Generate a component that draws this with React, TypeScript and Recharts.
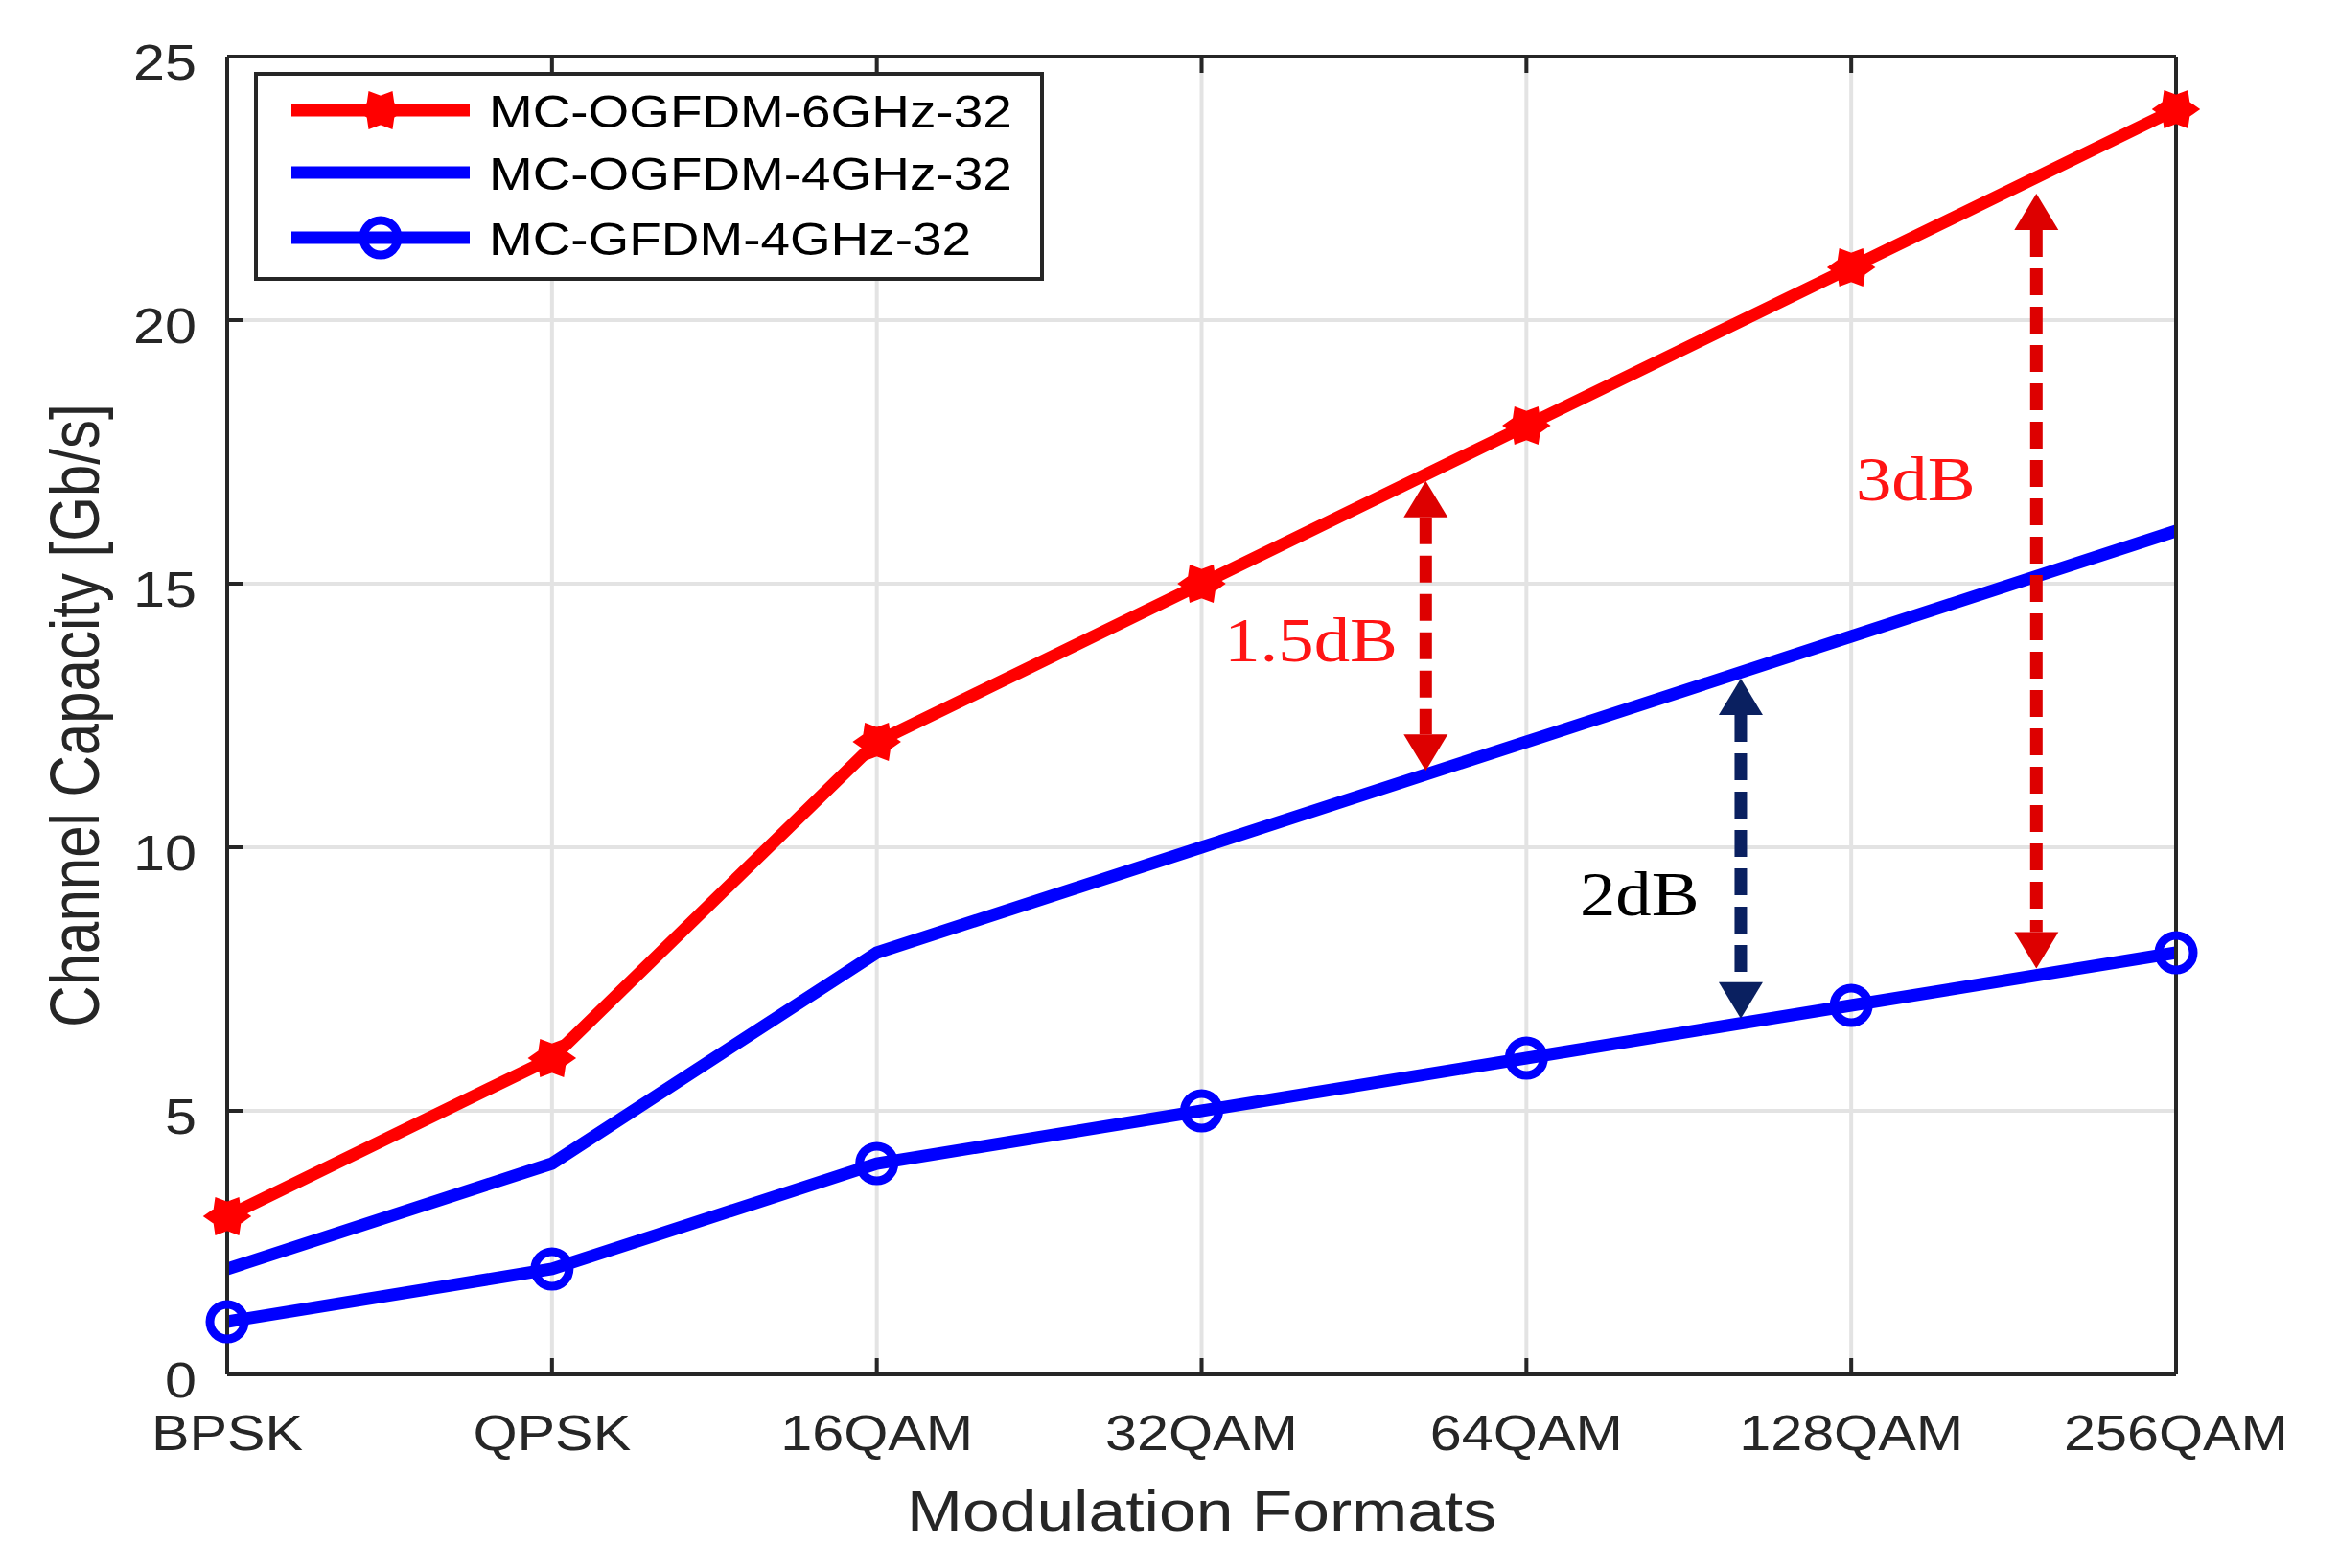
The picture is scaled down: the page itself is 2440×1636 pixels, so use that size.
import React from "react";
import {
  LineChart,
  Line,
  XAxis,
  YAxis,
  CartesianGrid,
  Legend,
  Label,
  ReferenceLine,
  ReferenceDot,
} from "recharts";

const SANS = '"Liberation Sans", Arial, Helvetica, sans-serif';
const SERIF = '"Liberation Serif", "Times New Roman", serif';
const AXIS_COLOR = "#262626";

const MODULATIONS = ["BPSK", "QPSK", "16QAM", "32QAM", "64QAM", "128QAM", "256QAM"];
const OGFDM_6GHZ = [3, 6, 12, 15, 18, 21, 24];
const OGFDM_4GHZ = [2, 4, 8, 10, 12, 14, 16];
const GFDM_4GHZ = [1, 2, 4, 5, 6, 7, 8];
const Y_TICKS = [0, 5, 10, 15, 20, 25];
const X_TICKS = MODULATIONS.map((_, i) => i);

const SERIES = [
  { key: "ogfdm6", name: "MC-OGFDM-6GHz-32", color: "#ff0000", marker: "hexagram" },
  { key: "ogfdm4", name: "MC-OGFDM-4GHz-32", color: "#0000ff", marker: "none" },
  { key: "gfdm4", name: "MC-GFDM-4GHz-32", color: "#0000ff", marker: "circle" },
];

// gap arrows, x = modulation index, y in Gb/s
const GAPS = [
  { x: 3.69, from: 11.45, to: 16.95, color: "#dd0000" },
  { x: 4.66, from: 6.75, to: 13.2, color: "#0a2060" },
  { x: 5.57, from: 7.7, to: 22.4, color: "#dd0000" },
];

const GAP_LABELS = [
  { x: 3.07, y: 13.53, text: "1.5dB", color: "#ff1414" },
  { x: 4.164, y: 8.71, text: "2dB", color: "#000000" },
  { x: 5.014, y: 16.58, text: "3dB", color: "#ff1414" },
];

const data = MODULATIONS.map((m, i) => ({
  x: i,
  name: m,
  ogfdm6: OGFDM_6GHZ[i],
  ogfdm4: OGFDM_4GHZ[i],
  gfdm4: GFDM_4GHZ[i],
}));

function hexagramPoints(cx: number, cy: number, r: number) {
  const pts: string[] = [];
  for (let k = 0; k < 12; k++) {
    const rr = k % 2 === 0 ? r : r * 0.66;
    const a = (Math.PI / 6) * k;
    pts.push(`${cx + rr * Math.cos(a) * 1.1},${cy + rr * Math.sin(a)}`);
  }
  return pts.join(" ");
}

function Marker({ type, cx, cy, color }: any) {
  if (type === "hexagram") {
    return (
      <polygon
        points={hexagramPoints(cx, cy, 19)}
        fill={color}
        stroke={color}
        strokeWidth={5}
        strokeLinejoin="miter"
      />
    );
  }
  if (type === "circle") {
    return <circle cx={cx} cy={cy} r={18} fill="none" stroke={color} strokeWidth={9} />;
  }
  return null;
}

const XTick = ({ x, y, payload }: any) => (
  <text
    transform={`translate(${x},${y + 79}) scale(1.14,1)`}
    textAnchor="middle"
    fontSize={52}
    fontFamily={SANS}
    fill={AXIS_COLOR}
  >
    {MODULATIONS[payload.value]}
  </text>
);

const YTick = ({ x, y, payload }: any) => (
  <text
    transform={`translate(${x - 32},${y + 24}) scale(1.14,1)`}
    textAnchor="end"
    fontSize={52}
    fontFamily={SANS}
    fill={AXIS_COLOR}
  >
    {payload.value}
  </text>
);

const NoTick = () => <g />;

const XTitle = ({ viewBox }: any) => (
  <text
    transform={`translate(${viewBox.x + viewBox.width / 2},${viewBox.y + 163}) scale(1.16,1)`}
    textAnchor="middle"
    fontSize={60}
    fontFamily={SANS}
    fill={AXIS_COLOR}
  >
    Modulation Formats
  </text>
);

const YTitle = ({ viewBox }: any) => (
  <text
    transform={`translate(${viewBox.x + 6},${viewBox.y + viewBox.height / 2}) rotate(-90) scale(1,1.2)`}
    textAnchor="middle"
    fontSize={60}
    fontFamily={SANS}
    fill={AXIS_COLOR}
  >
    Channel Capacity [Gb/s]
  </text>
);

function GapArrow(props: any) {
  const { x1, y1, x2, y2, stroke } = props;
  const top = Math.min(y1, y2);
  const bot = Math.max(y1, y2);
  const x = (x1 + x2) / 2;
  const head = 38;
  const half = 23;
  return (
    <g>
      <line
        x1={x}
        y1={top + head}
        x2={x}
        y2={bot - head}
        stroke={stroke}
        strokeWidth={13}
        strokeDasharray="28 12"
      />
      <polygon points={`${x},${top} ${x - half},${top + head} ${x + half},${top + head}`} fill={stroke} />
      <polygon points={`${x},${bot} ${x - half},${bot - head} ${x + half},${bot - head}`} fill={stroke} />
    </g>
  );
}

function LegendBox() {
  const rows = [36, 101, 169];
  return (
    <div
      style={{
        width: 824,
        height: 218,
        boxSizing: "border-box",
        border: `4px solid ${AXIS_COLOR}`,
        background: "#fff",
      }}
    >
      <svg width={816} height={210} style={{ display: "block" }}>
        {SERIES.map((s, i) => (
          <g key={s.key}>
            <line x1={35} y1={rows[i]} x2={221} y2={rows[i]} stroke={s.color} strokeWidth={13} />
            <Marker type={s.marker} cx={128} cy={rows[i]} color={s.color} />
            <text
              transform={`translate(241,${rows[i] + 18}) scale(1.12,1)`}
              fontSize={49}
              fontFamily={SANS}
              fill="#000"
            >
              {s.name}
            </text>
          </g>
        ))}
      </svg>
    </div>
  );
}

export default function App() {
  return (
    <div style={{ position: "absolute", left: 0, top: 0, background: "#fff" }}>
      <LineChart
        width={2440}
        height={1636}
        data={data}
        margin={{ top: 49, right: 160, bottom: 82, left: 97 }}
      >
        <CartesianGrid stroke="#e3e3e3" strokeWidth={4} />
        <XAxis
          dataKey="x"
          type="number"
          domain={[0, 6]}
          ticks={X_TICKS}
          height={120}
          tick={<XTick />}
          tickSize={-17}
          tickMargin={17}
          stroke={AXIS_COLOR}
          strokeWidth={4}
          interval={0}
        >
          <Label content={<XTitle />} />
        </XAxis>
        <XAxis
          xAxisId="top"
          orientation="top"
          dataKey="x"
          type="number"
          domain={[0, 6]}
          ticks={X_TICKS}
          height={10}
          tick={<NoTick />}
          tickSize={-17}
          stroke={AXIS_COLOR}
          strokeWidth={4}
        />
        <YAxis
          type="number"
          domain={[0, 25]}
          ticks={Y_TICKS}
          width={140}
          tick={<YTick />}
          tickSize={-17}
          tickMargin={17}
          stroke={AXIS_COLOR}
          strokeWidth={4}
          interval={0}
        >
          <Label content={<YTitle />} />
        </YAxis>
        <YAxis
          yAxisId="right"
          orientation="right"
          type="number"
          domain={[0, 25]}
          ticks={Y_TICKS}
          width={10}
          tick={<NoTick />}
          tickSize={-17}
          stroke={AXIS_COLOR}
          strokeWidth={4}
        />
        {SERIES.map((s) => (
          <Line
            key={s.key}
            dataKey={s.key}
            name={s.name}
            type="linear"
            stroke={s.color}
            strokeWidth={13}
            isAnimationActive={false}
            activeDot={false}
            dot={
              s.marker === "none"
                ? false
                : (p: any) => (
                    <Marker key={`${s.key}-${p.index}`} type={s.marker} cx={p.cx} cy={p.cy} color={s.color} />
                  )
            }
          />
        ))}
        {GAPS.map((g, i) => (
          <ReferenceLine
            key={`gap-${i}`}
            segment={[
              { x: g.x, y: g.from },
              { x: g.x, y: g.to },
            ]}
            stroke={g.color}
            shape={GapArrow}
            ifOverflow="visible"
          />
        ))}
        {GAP_LABELS.map((l, i) => (
          <ReferenceDot
            key={`gap-label-${i}`}
            x={l.x}
            y={l.y}
            r={1}
            ifOverflow="visible"
            shape={(p: any) => (
              <text
                transform={`translate(${p.cx},${p.cy}) scale(1.15,1)`}
                fontSize={65}
                fontFamily={SERIF}
                fill={l.color}
              >
                {l.text}
              </text>
            )}
          />
        ))}
        <Legend
          layout="vertical"
          align="center"
          verticalAlign="middle"
          content={<LegendBox />}
          wrapperStyle={{ left: 265, top: 75, width: 824, height: 218 }}
        />
      </LineChart>
    </div>
  );
}
